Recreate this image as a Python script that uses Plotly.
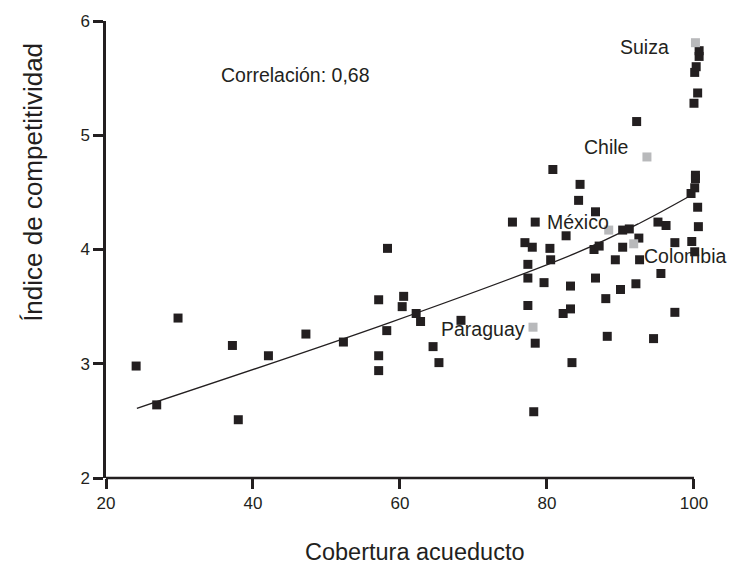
import plotly.graph_objects as go

# Countries (black squares): cobertura acueducto (x) vs índice de competitividad (y)
cov_x = [24.1, 26.9, 29.8, 37.2, 38.0, 42.1, 47.2, 52.3, 57.1, 57.1, 57.1, 58.3, 58.2, 60.5, 60.3,
         62.2, 62.8, 64.5, 65.3, 68.3, 75.3, 78.4, 80.8, 84.5, 84.3, 86.6, 82.6, 77.0, 78.0, 80.4,
         77.4, 80.5, 77.4, 79.6, 83.2, 86.6, 89.3, 92.6, 95.5, 92.1, 90.0, 88.0, 77.4, 82.2, 83.2,
         97.4, 78.4, 88.2, 94.5, 83.4, 78.2, 86.4, 87.1, 90.3, 90.3, 91.2, 92.5, 95.1, 96.2, 97.4,
         99.7, 100.1, 100.6, 100.5, 99.6, 100.1, 100.2, 100.2, 92.2, 100.0, 100.5, 100.1, 100.3,
         100.7, 100.7]
comp_y = [2.98, 2.64, 3.40, 3.16, 2.51, 3.07, 3.26, 3.19, 3.56, 3.07, 2.94, 4.01, 3.29, 3.59, 3.50,
          3.44, 3.37, 3.15, 3.01, 3.38, 4.24, 4.24, 4.70, 4.57, 4.43, 4.33, 4.12, 4.06, 4.02, 4.01,
          3.87, 3.91, 3.75, 3.71, 3.68, 3.75, 3.91, 3.91, 3.79, 3.70, 3.65, 3.57, 3.51, 3.44, 3.48,
          3.45, 3.18, 3.24, 3.22, 3.01, 2.58, 4.00, 4.03, 4.02, 4.17, 4.18, 4.10, 4.24, 4.21, 4.06,
          4.07, 3.98, 4.20, 4.37, 4.49, 4.54, 4.62, 4.65, 5.12, 5.28, 5.37, 5.55, 5.60, 5.69, 5.74]

# Highlighted countries (grey squares)
hl_names = ["Suiza", "Chile", "México", "Colombia", "Paraguay"]
hl_x = [100.2, 93.6, 88.4, 91.8, 78.1]
hl_y = [5.81, 4.81, 4.17, 4.05, 3.32]

# Fitted trend curve
fit_x = [24.2, 58.6, 84.0, 92.6, 99.5]
fit_y = [2.61, 3.36, 3.97, 4.23, 4.47]

x_ticks = [20, 40, 60, 80, 100]
y_ticks = [2, 3, 4, 5, 6]
X_MIN, X_MAX, X_VIEW_MAX = 20, 100, 101.5
Y_MIN, Y_MAX = 2, 6

FONT = "Liberation Sans, Arial, Helvetica, sans-serif"
BLACK = "#231f20"
GREY = "#b8b9bb"

fig = go.Figure()
fig.add_trace(go.Scatter(x=fit_x, y=fit_y, mode="lines", line=dict(color=BLACK, width=1.3, shape="spline"),
                         hoverinfo="skip", cliponaxis=False))
fig.add_trace(go.Scatter(x=cov_x, y=comp_y, mode="markers",
                         marker=dict(symbol="square", size=9, color=BLACK, line=dict(width=0)),
                         cliponaxis=False))
fig.add_trace(go.Scatter(x=hl_x, y=hl_y, mode="markers", text=hl_names,
                         marker=dict(symbol="square", size=9, color=GREY, line=dict(width=0)),
                         cliponaxis=False))

# label positions (data coords) and anchors
lab_x = [96.7, 91.2, 79.9, 93.1, 77.1]
lab_y = [5.77, 4.90, 4.24, 3.94, 3.30]
lab_anchor = ["right", "right", "left", "left", "right"]
for name, lx, ly, anc in zip(hl_names, lab_x, lab_y, lab_anchor):
    fig.add_annotation(x=lx, y=ly, text=name, showarrow=False, xanchor=anc, yanchor="middle",
                       font=dict(family=FONT, size=19.5, color=BLACK), borderpad=0)

fig.add_annotation(x=35.5, y=5.525, text="Correlación: 0,68", showarrow=False, xanchor="left",
                   yanchor="middle", font=dict(family=FONT, size=19.5, color=BLACK), borderpad=0)

fig.add_annotation(xref="paper", yref="paper", x=0.5255 * 588 / 599, y=-0.162, text="Cobertura acueducto",
                   showarrow=False, xanchor="center", yanchor="middle",
                   font=dict(family=FONT, size=23.5, color=BLACK))
fig.add_annotation(xref="paper", yref="paper", x=-0.124 * 588 / 599, y=0.646, text="Índice de competitividad",
                   showarrow=False, xanchor="center", yanchor="middle", textangle=-90,
                   font=dict(family=FONT, size=26, color=BLACK))

# x axis line only spans the labelled range (20-100)
fig.add_shape(type="line", xref="x", yref="paper", x0=X_MIN, x1=X_MAX, y0=0, y1=0,
              line=dict(color=BLACK, width=2.5), layer="above")

axis_common = dict(showgrid=False, zeroline=False, linecolor=BLACK, linewidth=2.5,
                   ticks="outside", ticklen=10, tickwidth=2.5, tickcolor=BLACK,
                   tickfont=dict(family=FONT, size=17, color=BLACK))
fig.update_xaxes(range=[X_MIN, X_VIEW_MAX], tickvals=x_ticks, showline=False, **axis_common)
fig.update_yaxes(range=[Y_MIN, Y_MAX], tickvals=y_ticks, showline=True, **axis_common)

fig.update_layout(width=745, height=581, margin=dict(l=106, r=40, t=15, b=103),
                  plot_bgcolor="white", paper_bgcolor="white", showlegend=False,
                  font=dict(family=FONT, color=BLACK))

fig.write_html("out.html")
